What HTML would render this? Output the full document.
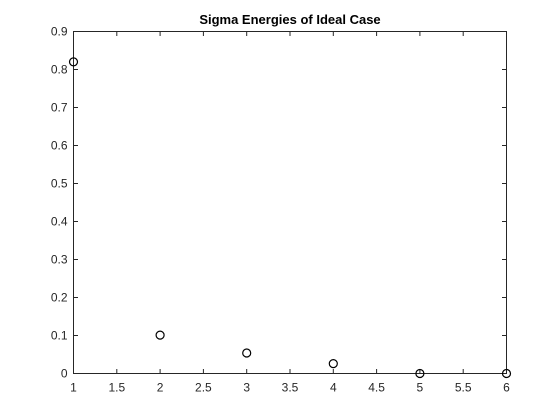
<!DOCTYPE html>
<html><head><meta charset="utf-8"><style>
body{margin:0;background:#fff;}
svg{display:block;font-family:"Liberation Sans",Arial,sans-serif;}
</style></head><body>
<svg id="chart" width="560" height="420" viewBox="0 0 560 420">
<rect width="560" height="420" fill="#fff"/>
<text x="290" y="24" text-anchor="middle" font-size="13" font-weight="bold" fill="#000">Sigma Energies of Ideal Case</text>
<g id="axes"></g>
<g id="marks"></g>
</svg>
<script>
const xValues=[1,2,3,4,5,6];
const yValues=[0.82,0.101,0.054,0.026,0.0,0.0];
const xTicks=[1,1.5,2,2.5,3,3.5,4,4.5,5,5.5,6];
const yTicks=[0,0.1,0.2,0.3,0.4,0.5,0.6,0.7,0.8,0.9];
const L=73.5,R=506.5,T=31.5,B=373.5;
const sx=v=>L+(v-1)/(6-1)*(R-L);
const sy=v=>B-(v-0)/(0.9-0)*(B-T);
const NS="http://www.w3.org/2000/svg";
const axes=document.getElementById('axes'),marks=document.getElementById('marks');
function mk(tag,attrs,parent){const e=document.createElementNS(NS,tag);for(const k in attrs)e.setAttribute(k,attrs[k]);parent.appendChild(e);return e;}
const box=mk('rect',{x:L,y:T,width:R-L,height:B-T,fill:'none',stroke:'#262626','stroke-width':1},axes);


xTicks.forEach(v=>{const x=sx(v);
const t1=mk('line',{x1:x,x2:x,y1:B,y2:B-4.5,stroke:'#262626'},axes);


const t2=mk('line',{x1:x,x2:x,y1:T,y2:T+4.5,stroke:'#262626'},axes);


const tx=mk('text',{x:x,y:B+18,'text-anchor':'middle','font-size':12,fill:'#262626'},axes);tx.textContent=String(v);

});
yTicks.forEach(v=>{const y=sy(v);
const t1=mk('line',{x1:L,x2:L+4.5,y1:y,y2:y,stroke:'#262626'},axes);


const t2=mk('line',{x1:R,x2:R-4.5,y1:y,y2:y,stroke:'#262626'},axes);


const tx=mk('text',{x:L-6,y:y+4,'text-anchor':'end','font-size':12,fill:'#262626'},axes);tx.textContent=String(v);

});
xValues.forEach((xv,i)=>{const c=mk('circle',{cx:sx(xv),cy:sy(yValues[i]),r:4,fill:'none',stroke:'#000','stroke-width':1.2},marks);

});
</script>
</body></html>
